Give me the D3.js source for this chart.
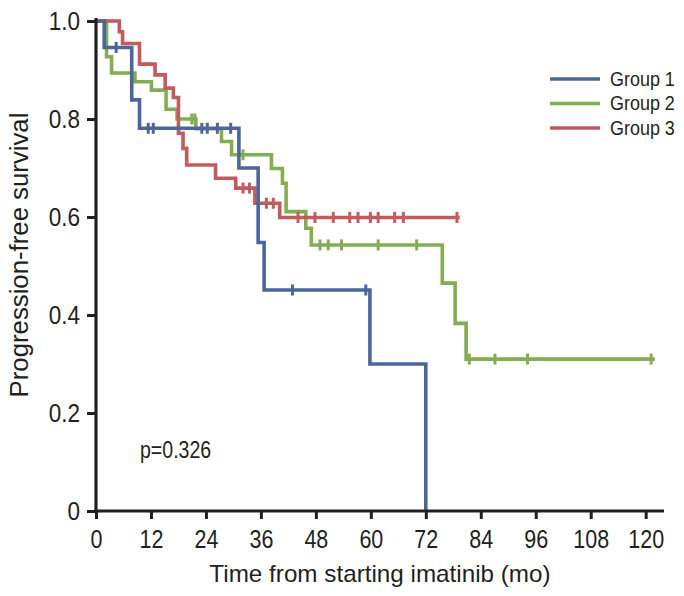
<!DOCTYPE html>
<html lang="en">
<head>
<meta charset="UTF-8">
<title>Progression-free survival</title>
<script src="https://d3js.org/d3.v7.min.js"></script>
<style>
  body { margin: 0; background: #fff; }
  text { font-family: "Liberation Sans", Arial, sans-serif; fill: #231f20; }
</style>
</head>
<body>
<div id="chart"></div>
<script>
// tick labels
const monthTicks = [0, 12, 24, 36, 48, 60, 72, 84, 96, 108, 120];
const survTicks = [0, 0.2, 0.4, 0.6, 0.8, 1.0];

// Group 1 (step times in months, survival after the step)
const g1Time = [0, 1.8, 7.8, 9.5, 31.2, 35.4, 36.7, 59.8, 72];
const g1Surv = [1, 0.946, 0.839, 0.781, 0.70, 0.548, 0.451, 0.30, 0];
const g1End = 72;
const g1Cens = [4.4, 11.4, 12.5, 23.1, 24.3, 26.5, 29.4, 42.9, 58.9];

// Group 2
const g2Time = [0, 2.3, 3.4, 8.5, 12.1, 15.3, 17.7, 21.8, 27.4, 29.6, 38.3, 40.7, 41.5, 45.8, 47.0, 75.6, 78.4, 80.8];
const g2Surv = [1, 0.927, 0.894, 0.876, 0.859, 0.82, 0.80, 0.78, 0.754, 0.727, 0.699, 0.669, 0.611, 0.577, 0.543, 0.465, 0.383, 0.31];
const g2End = 122;
const g2Cens = [20.9, 21.6, 32.1, 48.9, 50.7, 53.6, 61.6, 70, 81.5, 87.1, 94.2, 121.2];

// Group 3
const g3Time = [0, 5.1, 5.8, 9.5, 12.9, 15.1, 16.9, 18.0, 19.0, 19.8, 26.1, 30.5, 34.7, 40.1];
const g3Surv = [1, 0.978, 0.954, 0.912, 0.89, 0.863, 0.844, 0.771, 0.74, 0.706, 0.679, 0.659, 0.628, 0.599];
const g3End = 79.4;
const g3Cens = [32.1, 33.5, 37.2, 38.7, 44.1, 47.8, 51.8, 55.4, 57.2, 59.9, 61.6, 65.2, 67.1, 78.8];

const groups = [
  { name: 'Group 2', time: g2Time, surv: g2Surv, end: g2End, cens: g2Cens, color: '#84ad52' },
  { name: 'Group 3', time: g3Time, surv: g3Surv, end: g3End, cens: g3Cens, color: '#c25a5e' },
  { name: 'Group 1', time: g1Time, surv: g1Surv, end: g1End, cens: g1Cens, color: '#4d6699' }
];
const legendOrder = ['Group 1', 'Group 2', 'Group 3'];

const width = 684, height = 596;

const svg = d3.select('#chart').append('svg')
  .attr('width', width)
  .attr('height', height);

const x = d3.scaleLinear().domain([0, 124]).range([96, 664]);
const y = d3.scaleLinear().domain([0, 1]).range([511, 21]);

// squeeze text horizontally to mimic the narrow typeface
function narrow(sel, f) {
  sel.each(function () {
    const len = this.getComputedTextLength();
    d3.select(this).attr('textLength', len * f).attr('lengthAdjust', 'spacingAndGlyphs');
  });
}

// curves
groups.forEach(g => {
  const pts = g.time.map((t, i) => [t, g.surv[i]]);
  const last = g.surv[g.surv.length - 1];
  if (g.end > g.time[g.time.length - 1]) pts.push([g.end, last]);

  svg.append('path')
    .datum(pts)
    .attr('fill', 'none')
    .attr('stroke', g.color)
    .attr('stroke-width', 3.6)
    .attr('d', d3.line()
      .x(d => x(d[0]))
      .y(d => y(d[1]))
      .curve(d3.curveStepAfter));

  // censor marks
  svg.selectAll(null)
    .data(g.cens)
    .enter()
    .append('line')
    .attr('x1', d => x(d))
    .attr('x2', d => x(d))
    .attr('y1', d => y(g.surv[d3.bisectRight(g.time, d) - 1]) - 5.5)
    .attr('y2', d => y(g.surv[d3.bisectRight(g.time, d) - 1]) + 5.5)
    .attr('stroke', g.color)
    .attr('stroke-width', 3);
});

// x axis
const xAxis = svg.append('g')
  .attr('transform', `translate(0, ${y(0)})`)
  .call(d3.axisBottom(x).tickValues(monthTicks).tickSize(8).tickPadding(11).tickFormat(d3.format('d')));
xAxis.select('.domain').attr('stroke', '#231f20').attr('stroke-width', 3.2).attr('d', `M${x(0) - 2},0H${x(124)}`);
xAxis.selectAll('.tick line').attr('stroke', '#231f20').attr('stroke-width', 3);
xAxis.selectAll('.tick text').attr('font-size', 25).attr('font-family', null).call(narrow, 0.86);

// y axis
const yAxis = svg.append('g')
  .attr('transform', `translate(${x(0)}, 0)`)
  .call(d3.axisLeft(y).tickValues(survTicks).tickSize(9).tickPadding(7)
    .tickFormat(d => d === 0 ? '0' : d3.format('.1f')(d)));
yAxis.select('.domain').attr('stroke', '#231f20').attr('stroke-width', 3.2).attr('d', `M0,${y(1) - 3}V${y(0) + 1.5}`);
yAxis.selectAll('.tick line').attr('stroke', '#231f20').attr('stroke-width', 3);
yAxis.selectAll('.tick text').attr('font-size', 25).attr('font-family', null).call(narrow, 0.9);

// axis titles
svg.append('text')
  .attr('x', 380)
  .attr('y', 582)
  .attr('text-anchor', 'middle')
  .attr('font-size', 24)
  .text('Time from starting imatinib (mo)')
  .call(narrow, 1.01);

svg.append('text')
  .attr('transform', 'translate(28, 255) rotate(-90)')
  .attr('text-anchor', 'middle')
  .attr('font-size', 25)
  .text('Progression-free survival')
  .call(narrow, 1.03);

// p value
svg.append('text')
  .attr('x', 140)
  .attr('y', 458)
  .attr('font-size', 23)
  .text('p=0.326')
  .call(narrow, 0.85);

// legend
const legend = svg.append('g');
legendOrder.forEach((name, i) => {
  const g = groups.find(d => d.name === name);
  const ly = 79 + i * 24.5;
  legend.append('line')
    .attr('x1', 550).attr('x2', 600)
    .attr('y1', ly).attr('y2', ly)
    .attr('stroke', g.color)
    .attr('stroke-width', 3.6);
  legend.append('text')
    .attr('x', 610)
    .attr('y', ly + 6.5)
    .attr('font-size', 19.5)
    .text(name)
    .call(narrow, 0.92);
});
</script>
</body>
</html>
